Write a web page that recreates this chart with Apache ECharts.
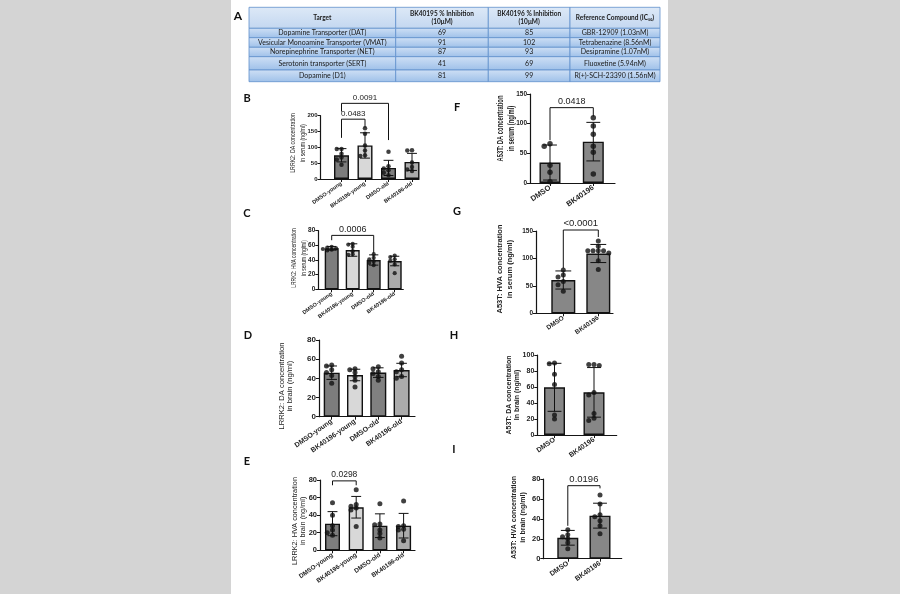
<!DOCTYPE html>
<html><head><meta charset="utf-8">
<script src="https://cdn.jsdelivr.net/npm/echarts@6/dist/echarts.min.js"></script>
<style>html,body{margin:0;padding:0;background:#d4d4d4}#c{width:900px;height:594px}</style>
</head><body><div id="c"></div><script>
// ---------------- Table A data ----------------
const tableHeader = ['Target', 'BK40195 % Inhibition\n(10μM)', 'BK40196 % Inhibition\n(10μM)', 'Reference Compound (IC₅₀)'];
const tableTargets = ['Dopamine Transporter (DAT)', 'Vesicular Monoamine Transporter (VMAT)', 'Norepinephrine Transporter (NET)', 'Serotonin transporter (SERT)', 'Dopamine (D1)'];
const inhibBK40195 = [69, 91, 87, 41, 81];
const inhibBK40196 = [85, 102, 93, 69, 99];
const refCompound = ['GBR-12909 (1.03nM)', 'Tetrabenazine (8.56nM)', 'Desipramine (1.07nM)', 'Fluoxetine (5.94nM)', 'R(+)-SCH-23390 (1.56nM)'];

// ---------------- Panel data ----------------
const catsLRRK2 = ['DMSO-young', 'BK40196-young', 'DMSO-old', 'BK40196-old'];
const catsA53T = ['DMSO', 'BK40196'];

// B: LRRK2 DA serum
const bMean = [75, 106, 35, 54];
const bSD = [21, 40, 24, 27];
const bPoints = [[95, 95, 80, 68, 62, 45], [160, 143, 106, 90, 75, 73], [86, 40, 33, 28, 20, 12], [91, 90, 52, 38, 25, 30]];
const bTicks = [0, 50, 100, 150, 200];
const bSig = [{a: 0, b: 2, top: 239, endA: 213, endB: 123, p: '0.0091'}, {a: 0, b: 1, top: 189, endA: 130, endB: 162, p: '0.0483'}];

// C: LRRK2 HVA serum
const cMean = [56, 53.6, 40, 38.6];
const cSD = [2.5, 8.5, 7, 6.5];
const cPoints = [[58, 57, 56, 55, 54, 53], [62, 61, 58, 52, 48, 47], [48, 43, 41, 38, 33, 36], [46, 44, 41, 39, 34, 22]];
const cTicks = [0, 20, 40, 60, 80];
const cSig = [{a: 0, b: 2, top: 73.6, endA: 67, endB: 49, p: '0.0006'}];

// D: LRRK2 DA brain
const dMean = [45.9, 43.5, 46, 48.7];
const dSD = [7, 6, 5, 7];
const dPoints = [[54, 53, 49, 46, 43, 35], [50, 49, 46, 42, 38, 31], [52, 50, 47, 45, 42, 38], [63, 56, 49, 47, 42, 40]];
const dTicks = [0, 20, 40, 60, 80];
const dSig = [];

// E: LRRK2 HVA brain
const eMean = [30.3, 49, 28, 28];
const eSD = [13.7, 12.3, 13.5, 14];
const ePoints = [[54, 40, 28, 23, 20, 17], [69, 52, 50, 48, 46, 27], [53, 30, 29, 23, 19, 14], [56, 28, 27, 24, 23, 11]];
const eTicks = [0, 20, 40, 60, 80];
const eSig = [{a: 0, b: 1, top: 79, endA: 74, endB: 74, p: '0.0298'}];

// F: A53T DA serum
const fMean = [34.5, 69.7];
const fSD = [29.5, 32.5];
const fPoints = [[66, 62, 30, 18, 2], [110, 96, 82, 62, 52, 15]];
const fTicks = [0, 50, 100, 150];
const fSig = [{a: 0, b: 1, top: 127, endA: 72, endB: 112, p: '0.0418'}];

// G: A53T HVA serum
const gMean = [60.7, 109];
const gSD = [16.5, 16.5];
const gPoints = [[79, 70, 66, 58, 52, 40], [132, 122, 114, 114, 114, 114, 110, 96, 80]];
const gTicks = [0, 50, 100, 150];
const gSig = [{a: 0, b: 1, top: 151.8, endA: 82, endB: 139, p: '<0.0001'}];

// H: A53T DA brain
const hMean = [59.6, 53.3];
const hSD = [30, 31];
const hPoints = [[90, 89, 76, 63, 25, 20], [88, 88, 87, 53, 50, 27, 21, 18]];
const hTicks = [0, 20, 40, 60, 80, 100];
const hSig = [];

// I: A53T HVA brain
const iMean = [21, 43.2];
const iSD = [7.4, 12.5];
const iPoints = [[29, 24, 22, 20, 16, 10], [64, 55, 44, 42, 38, 33, 25]];
const iTicks = [0, 20, 40, 60, 80];
const iSig = [{a: 0, b: 1, top: 73.3, endA: 33, endB: 70.6, p: '0.0196'}];

// ---------------- Styles / layout ----------------
const FONT = '"Liberation Sans", Arial, sans-serif';
const TFONT = 'Lato, "Open Sans", sans-serif';
const lrrkColors = ['#7d7d7d', '#d8d8d8', '#808080', '#ababab'];
const a53tColors = ['#878787', '#878787'];

const panels = [
  {id: 'B', cats: catsLRRK2, mean: bMean, sd: bSD, pts: bPoints, ticks: bTicks, sig: bSig, colors: lrrkColors, title: 'LRRK2: DA concentration\nin serum (ng/ml)'},
  {id: 'C', cats: catsLRRK2, mean: cMean, sd: cSD, pts: cPoints, ticks: cTicks, sig: cSig, colors: lrrkColors, title: 'LRRK2: HVA concentration\nin serum (ng/ml)'},
  {id: 'D', cats: catsLRRK2, mean: dMean, sd: dSD, pts: dPoints, ticks: dTicks, sig: dSig, colors: lrrkColors, title: 'LRRK2: DA concentration\nin brain (ng/ml)'},
  {id: 'E', cats: catsLRRK2, mean: eMean, sd: eSD, pts: ePoints, ticks: eTicks, sig: eSig, colors: lrrkColors, title: 'LRRK2: HVA concentration\nin brain (ng/ml)'},
  {id: 'F', cats: catsA53T, mean: fMean, sd: fSD, pts: fPoints, ticks: fTicks, sig: fSig, colors: a53tColors, title: 'A53T: DA concentration\nin serum (ng/ml)'},
  {id: 'G', cats: catsA53T, mean: gMean, sd: gSD, pts: gPoints, ticks: gTicks, sig: gSig, colors: a53tColors, title: 'A53T: HVA concentration\nin serum (ng/ml)'},
  {id: 'H', cats: catsA53T, mean: hMean, sd: hSD, pts: hPoints, ticks: hTicks, sig: hSig, colors: a53tColors, title: 'A53T: DA concentration\nIn brain (ng/ml)'},
  {id: 'I', cats: catsA53T, mean: iMean, sd: iSD, pts: iPoints, ticks: iTicks, sig: iSig, colors: a53tColors, title: 'A53T: HVA concentration\nin brain (ng/ml)'}
];

const L = {
  B: {axisX: 320.5, endX: 419, top: 115.7, bottom: 179, c0: 341.5, step: 23.5, barW: 15, yFs: 6, xFs: 5.5, pFs: 8, dot: 4.5,
      tx: 298, ty: 143, tFs: 8, tLh: 10, tSc: 0.65, tW: 'normal', lx: 247, ly: 98},
  C: {axisX: 318.3, endX: 403.3, top: 230.7, bottom: 289.3, c0: 331.7, step: 21, barW: 14, yFs: 6.5, xFs: 5.5, pFs: 9, dot: 4.2,
      tx: 298.3, ty: 258, tFs: 8, tLh: 10, tSc: 0.62, tW: 'normal', lx: 247, ly: 213},
  D: {axisX: 319, endX: 415, top: 340, bottom: 416.7, c0: 331.7, step: 23.3, barW: 16, yFs: 8, xFs: 7, pFs: 8, dot: 5,
      tx: 286, ty: 386, tFs: 7.6, tLh: 8.5, tSc: 1, tW: 'normal', lx: 248, ly: 335},
  E: {axisX: 320, endX: 415, top: 480, bottom: 550.3, c0: 332.5, step: 23.7, barW: 15, yFs: 7.5, xFs: 6.3, pFs: 8.5, dot: 5,
      tx: 299, ty: 521, tFs: 7.3, tLh: 8.5, tSc: 1, tW: 'normal', lx: 247, ly: 461},
  F: {axisX: 530, endX: 615, top: 94, bottom: 183, c0: 550, step: 43.3, barW: 21, yFs: 6.5, xFs: 7.5, pFs: 9, dot: 5.5,
      tx: 506, ty: 128.5, tFs: 9, tLh: 11, tSc: 0.65, tW: 'bold', lx: 457, ly: 107},
  G: {axisX: 536, endX: 613, top: 231, bottom: 313.3, c0: 563.3, step: 35, barW: 24, yFs: 6.5, xFs: 6.5, pFs: 9.5, dot: 5,
      tx: 505, ty: 269, tFs: 7.5, tLh: 10, tSc: 1, tW: 'bold', lx: 457, ly: 211},
  H: {axisX: 537.3, endX: 616.7, top: 355, bottom: 435, c0: 554.5, step: 39.5, barW: 21, yFs: 7, xFs: 7, pFs: 9, dot: 5,
      tx: 513, ty: 395, tFs: 7, tLh: 8.5, tSc: 1, tW: 'bold', lx: 454, ly: 335},
  I: {axisX: 543.3, endX: 621.7, top: 479, bottom: 558.7, c0: 567.8, step: 32.2, barW: 21, yFs: 7.5, xFs: 7, pFs: 9.5, dot: 5,
      tx: 518.5, ty: 517.5, tFs: 7, tLh: 9, tSc: 1, tW: 'bold', lx: 454, ly: 449}
};

// beeswarm-like horizontal spreading of overlapping dots (layout only)
function swarm(vals, g, tol, dx) {
  const placed = [];
  const slots = [0, -1, 1, -2, 2, -3, 3];
  return vals.map(v => {
    const used = placed.filter(q => Math.abs(q.v - v) < tol).map(q => q.s);
    const s = slots.find(z => used.indexOf(z) < 0);
    placed.push({v, s});
    return [g + s * dx, v];
  });
}

const grids = [], xAxes = [], yAxes = [], series = [], graphics = [];
const AX = '#151515';

panels.forEach((p, i) => {
  const l = L[p.id];
  const xMin = (l.axisX - l.c0) / l.step, xMax = (l.endX - l.c0) / l.step;
  const idx = p.cats.map((c, k) => k);
  const tk = p.ticks, yMax = tk[tk.length - 1];
  grids.push({left: l.axisX, top: l.top, width: l.endX - l.axisX, height: l.bottom - l.top, containLabel: false, outerBoundsMode: 'none'});
  xAxes.push({
    type: 'value', gridIndex: i, min: xMin, max: xMax,
    axisLine: {show: true, onZero: false, lineStyle: {color: AX, width: 1.2}},
    axisTick: {show: true, customValues: idx, length: 3, lineStyle: {color: AX, width: 1}},
    axisLabel: {customValues: idx, rotate: 35, margin: 4, fontSize: l.xFs, fontWeight: 'bold', fontFamily: FONT, color: '#222',
      formatter: v => p.cats[Math.round(v)]},
    splitLine: {show: false}
  });
  yAxes.push({
    type: 'value', gridIndex: i, min: tk[0], max: yMax, interval: tk[1] - tk[0],
    axisLine: {show: true, onZero: false, lineStyle: {color: AX, width: 1.2}},
    axisTick: {show: true, length: 3, lineStyle: {color: AX, width: 1}},
    axisLabel: {fontSize: l.yFs, fontWeight: 'bold', fontFamily: FONT, color: '#222', margin: 3},
    splitLine: {show: false}
  });
  series.push({
    type: 'bar', xAxisIndex: i, yAxisIndex: i, barWidth: l.barW, silent: true, z: 2,
    itemStyle: {borderColor: '#111', borderWidth: 1.4},
    data: p.mean.map((m, k) => ({value: [k, m], itemStyle: {color: p.colors[k]}}))
  });
  series.push({
    type: 'custom', xAxisIndex: i, yAxisIndex: i, z: 3, clip: false, silent: true,
    data: p.mean.map((m, k) => [k, m - p.sd[k], m + p.sd[k]]),
    renderItem: (params, api) => {
      const x = api.value(0);
      const lo = api.coord([x, api.value(1)]), hi = api.coord([x, api.value(2)]);
      const cw = l.barW * 0.33;
      const st = {stroke: '#111', lineWidth: 1};
      return {type: 'group', children: [
        {type: 'line', shape: {x1: lo[0], y1: lo[1], x2: hi[0], y2: hi[1]}, style: st},
        {type: 'line', shape: {x1: hi[0] - cw, y1: hi[1], x2: hi[0] + cw, y2: hi[1]}, style: st},
        {type: 'line', shape: {x1: lo[0] - cw, y1: lo[1], x2: lo[0] + cw, y2: lo[1]}, style: st}
      ]};
    }
  });
  const dots = [];
  p.pts.forEach((arr, k) => swarm(arr, k, yMax * 0.05, (l.dot * 1.05) / l.step).forEach(d => dots.push(d)));
  series.push({
    type: 'scatter', xAxisIndex: i, yAxisIndex: i, z: 4, silent: true, symbolSize: l.dot, clip: false,
    itemStyle: {color: '#111'}, data: dots
  });
  if (p.sig.length) {
    series.push({
      type: 'custom', xAxisIndex: i, yAxisIndex: i, z: 5, clip: false, silent: true,
      data: p.sig.map(s => [s.a, s.top]),
      renderItem: (params, api) => {
        const s = p.sig[params.dataIndex];
        const pa = api.coord([s.a, s.top]), pb = api.coord([s.b, s.top]);
        const ea = api.coord([s.a, s.endA]), eb = api.coord([s.b, s.endB]);
        return {type: 'group', children: [
          {type: 'polyline', shape: {points: [ea, pa, pb, eb]}, style: {stroke: '#111', lineWidth: 1, fill: null}},
          {type: 'text', x: (pa[0] + pb[0]) / 2, y: pa[1] - 1.5,
           style: {text: s.p, textAlign: 'center', textVerticalAlign: 'bottom', font: l.pFs + 'px ' + FONT, fill: '#222'}}
        ]};
      }
    });
  }
  // axis title (rotated)
  graphics.push({type: 'text', x: l.tx, y: l.ty, rotation: Math.PI / 2, scaleX: l.tSc, silent: true,
    style: {text: p.title, textAlign: 'center', textVerticalAlign: 'middle', fontSize: l.tFs, fontWeight: l.tW,
      lineHeight: l.tLh, fontFamily: FONT, fill: '#222'}});
  graphics.push({type: 'text', x: l.lx, y: l.ly, silent: true,
    style: {text: p.id, textAlign: 'center', textVerticalAlign: 'middle', font: 'bold 11px ' + TFONT, fill: '#111'}});
});

// ---------------- Table A (custom series on a hidden grid) ----------------
const colEdges = [0, 146.7, 239.3, 321, 411];
const rowEdges = [0, 21, 30.4, 40, 49.4, 62.7, 74.4];
const cells = [];
tableHeader.forEach((t, c) => cells.push({c, r: 0, t}));
tableTargets.forEach((t, r) => {
  cells.push({c: 0, r: r + 1, t});
  cells.push({c: 1, r: r + 1, t: String(inhibBK40195[r])});
  cells.push({c: 2, r: r + 1, t: String(inhibBK40196[r])});
  cells.push({c: 3, r: r + 1, t: refCompound[r]});
});
const tIdx = grids.length;
grids.push({left: 249, top: 7.3, width: 411, height: 74.4, containLabel: false, outerBoundsMode: 'none'});
xAxes.push({type: 'value', gridIndex: tIdx, min: 0, max: 411, show: false});
yAxes.push({type: 'value', gridIndex: tIdx, min: 0, max: 74.4, inverse: true, show: false});
series.push({
  type: 'custom', xAxisIndex: tIdx, yAxisIndex: tIdx, clip: false, silent: true, z: 2,
  data: cells.map(d => [d.c, d.r]),
  renderItem: (params, api) => {
    const d = cells[params.dataIndex];
    const p0 = api.coord([colEdges[d.c], rowEdges[d.r]]);
    const p1 = api.coord([colEdges[d.c + 1], rowEdges[d.r + 1]]);
    const head = d.r === 0;
    const fill = head
      ? {type: 'linear', x: 0, y: 0, x2: 0, y2: 1, colorStops: [{offset: 0, color: '#dde9f7'}, {offset: 1, color: '#c3d7f0'}]}
      : {type: 'linear', x: 0, y: 0, x2: 0, y2: 1, colorStops: [{offset: 0, color: '#cfe0f5'}, {offset: 1, color: '#9ec0e9'}]};
    return {type: 'group', children: [
      {type: 'rect', shape: {x: p0[0], y: p0[1], width: p1[0] - p0[0], height: p1[1] - p0[1]},
       style: {fill: fill, stroke: '#5f8fcc', lineWidth: 0.8}},
      {type: 'text', x: (p0[0] + p1[0]) / 2, y: (p0[1] + p1[1]) / 2,
       style: {text: d.t, textAlign: 'center', textVerticalAlign: 'middle', fontFamily: TFONT,
         fontSize: head ? 6.5 : 7, fontWeight: head ? 'bold' : 'normal', lineHeight: head ? 8.5 : 8, fill: '#1a1a1a'}}
    ]};
  }
});
graphics.push({type: 'text', x: 238, y: 16, silent: true,
  style: {text: 'A', textAlign: 'center', textVerticalAlign: 'middle', font: 'bold 12px ' + TFONT, fill: '#111'}});

const chart = echarts.init(document.getElementById('c'), null, {renderer: 'canvas', width: 900, height: 594});
chart.setOption({
  animation: false,
  backgroundColor: '#d4d4d4',
  graphic: [{type: 'rect', shape: {x: 231, y: 0, width: 437, height: 594}, style: {fill: '#ffffff'}, z: -10, silent: true}].concat(graphics),
  grid: grids, xAxis: xAxes, yAxis: yAxes, series: series
});
</script></body></html>
